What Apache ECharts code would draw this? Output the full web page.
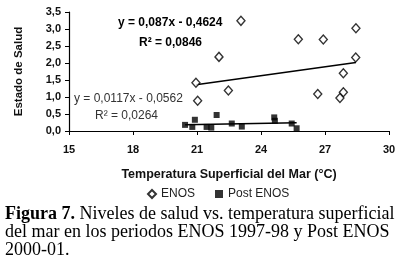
<!DOCTYPE html>
<html>
<head>
<meta charset="utf-8">
<script src="https://cdn.jsdelivr.net/npm/echarts@6/dist/echarts.min.js"></script>
<style>
html,body{margin:0;padding:0;background:#fff;}
#c{width:400px;height:267px;}
</style>
</head>
<body>
<div id="c"></div>
<script>
// ---- data ----
const enosX = [23.06, 28.45, 25.75, 26.92, 22.03, 28.44, 20.95, 27.86, 22.47, 26.66, 27.86, 27.70, 21.03];
const enosY = [3.24, 3.02, 2.70, 2.69, 2.18, 2.16, 1.42, 1.70, 1.19, 1.09, 1.14, 0.97, 0.89];
const postX = [20.44, 20.90, 20.78, 21.92, 21.45, 21.67, 22.63, 23.10, 24.62, 24.65, 25.44, 25.67];
const postY = [0.18, 0.33, 0.12, 0.47, 0.12, 0.10, 0.22, 0.13, 0.40, 0.30, 0.22, 0.08];
const enosFit = {slope: 0.087, intercept: -0.4624};
const postFit = {slope: 0.0117, intercept: -0.0562};
const seriesNames = ['ENOS', 'Post ENOS'];
const xTicks = {min: 15, max: 30, interval: 3};
const yTicks = {min: 0, max: 3.5, interval: 0.5};
const enosEqText = ['y = 0,087x - 0,4624', 'R² = 0,0846'];
const postEqText = ['y = 0,0117x - 0,0562', 'R² = 0,0264'];
const xTitle = 'Temperatura Superficial del Mar (°C)';
const yTitle = 'Estado de Salud';
const captionBold = 'Figura 7.';
const captionLines = [' Niveles de salud vs. temperatura superficial',
  'del mar en los periodos ENOS 1997-98 y Post ENOS',
  '2000-01.'];

// ---- build ----
function pairs(xs, ys){ return xs.map((x,i)=>[x, ys[i]]); }
function fitLine(xs, fit){
  const a = Math.min(...xs), b = Math.max(...xs);
  return [[a, fit.slope*a+fit.intercept],[b, fit.slope*b+fit.intercept]];
}
const sans = 'Liberation Sans, Arial, sans-serif';
const serif = 'Liberation Serif, Times New Roman, serif';

const chart = echarts.init(document.getElementById('c'), null, {renderer:'canvas'});
chart.setOption({
  animation: false,
  backgroundColor: '#fff',
  grid: {left: 69, right: 11, top: 12, height: 119},
  xAxis: {
    type: 'value', min: xTicks.min, max: xTicks.max, interval: xTicks.interval,
    axisLine: {show: true, onZero: false, lineStyle: {color: '#000', width: 1.2}},
    axisTick: {show: true, length: 4, lineStyle: {color: '#000'}},
    splitLine: {show: false},
    axisLabel: {color: '#111', fontFamily: sans, fontWeight: 'bold', fontSize: 11, margin: 13},
    name: xTitle, nameLocation: 'middle', nameGap: 37,
    nameTextStyle: {color: '#111', fontFamily: sans, fontWeight: 'bold', fontSize: 12.5}
  },
  yAxis: {
    type: 'value', min: yTicks.min, max: yTicks.max, interval: yTicks.interval,
    axisLine: {show: true, onZero: false, lineStyle: {color: '#000', width: 1.2}},
    axisTick: {show: true, length: 4, lineStyle: {color: '#000'}},
    splitLine: {show: false},
    axisLabel: {color: '#111', fontFamily: sans, fontWeight: 'bold', fontSize: 11, margin: 8,
      formatter: v => v.toFixed(1).replace('.', ',')},
    name: yTitle, nameLocation: 'middle', nameGap: 44, nameRotate: 90,
    nameTextStyle: {color: '#111', fontFamily: sans, fontWeight: 'bold', fontSize: 11.5}
  },
  legend: {
    data: seriesNames, left: 142, top: 183, itemGap: 20, itemWidth: 8, itemHeight: 8,
    textStyle: {color: '#222', fontFamily: sans, fontSize: 12}
  },
  series: [
    {name: seriesNames[0], type: 'scatter', data: pairs(enosX, enosY), symbol: 'diamond', symbolSize: [8, 9],
      itemStyle: {color: '#fff', borderColor: '#000', borderWidth: 1.4}, z: 3},
    {name: seriesNames[1], type: 'scatter', data: pairs(postX, postY), symbol: 'rect', symbolSize: 6,
      itemStyle: {color: '#000'}, z: 3},
    {type: 'line', data: fitLine(enosX, enosFit), showSymbol: false, silent: true,
      lineStyle: {color: '#000', width: 1.5}, z: 2},
    {type: 'line', data: fitLine(postX, postFit), showSymbol: false, silent: true,
      lineStyle: {color: '#000', width: 1.5}, z: 2}
  ],
  graphic: [
    {type: 'text', left: 118, top: 17, style: {text: enosEqText[0], fill: '#000', font: 'bold 12px ' + sans}},
    {type: 'text', left: 139, top: 37, style: {text: enosEqText[1], fill: '#000', font: 'bold 12px ' + sans}},
    {type: 'text', left: 74, top: 93, style: {text: postEqText[0], fill: '#333', font: '12px ' + sans}},
    {type: 'text', left: 95, top: 110, style: {text: postEqText[1], fill: '#333', font: '12px ' + sans}},
    {type: 'text', left: 5, top: 205, style: {
      text: '{b|' + captionBold + '}{n|' + captionLines[0] + '}',
      rich: {b: {font: 'bold 18px ' + serif, fill: '#000'}, n: {font: '18px ' + serif, fill: '#000'}}}},
    {type: 'text', left: 5, top: 223, style: {text: captionLines[1], fill: '#000', font: '18px ' + serif}},
    {type: 'text', left: 5, top: 241, style: {text: captionLines[2], fill: '#000', font: '18px ' + serif}}
  ]
});
</script>
</body>
</html>
